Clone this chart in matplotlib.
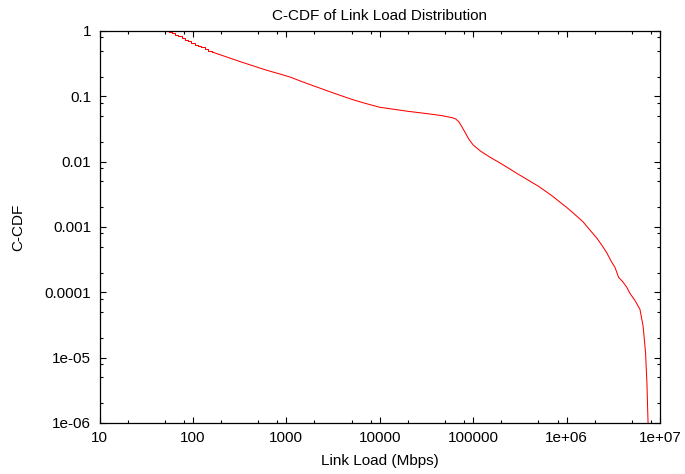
import numpy as np
import matplotlib
matplotlib.use("Agg")
import matplotlib.pyplot as plt
from matplotlib.ticker import LogLocator, NullFormatter

plt.rcParams['font.family'] = ['Liberation Sans', 'DejaVu Sans']

# stepped head of the C-CDF (small integer loads)
head_x = [52, 56, 60, 65, 70, 76, 82, 89, 96, 104, 113, 123, 134, 146, 159, 165]
head_y = [1.0, 0.97, 0.93, 0.88, 0.83, 0.78, 0.74, 0.7, 0.66, 0.62, 0.59, 0.56,
          0.53, 0.5, 0.48, 0.47]

# smooth tail
tail_x = [165, 230, 320, 450, 620, 850, 1100, 1500, 2000, 3000, 5000, 7000,
          10000, 20000, 30000, 45000, 60000, 65000, 70000, 75000, 82000, 90000,
          100000, 120000, 150000, 200000, 300000, 500000, 700000, 850000, 1e6,
          1.2e6, 1.5e6, 1.8e6, 2.1e6, 2.4e6, 2.7e6, 3.0e6, 3.3e6, 3.6e6, 4.0e6,
          4.4e6, 4.8e6, 5.4e6, 6.1e6, 6.6e6, 7.0e6, 7.25e6, 7.38e6, 7.45e6]
tail_y = [0.47, 0.40, 0.34, 0.29, 0.25, 0.22, 0.197, 0.166, 0.143, 0.116,
          0.09, 0.078, 0.068, 0.059, 0.055, 0.051, 0.047, 0.045, 0.041, 0.035,
          0.028, 0.022, 0.018, 0.0145, 0.0118, 0.0093, 0.0065, 0.0042, 0.003,
          0.0024, 0.002, 0.0016, 0.0012, 0.00088, 0.00068, 0.00052, 0.0004,
          0.0003, 0.00024, 0.00017, 0.000145, 0.00012, 9.5e-5, 7.5e-5, 5.5e-5,
          3e-5, 1.2e-5, 4e-6, 1.6e-6, 1e-6]

xticks = [10, 100, 1000, 10000, 100000, 1e6, 1e7]
xlabels = ["10", "100", "1000", "10000", "100000", "1e+06", "1e+07"]
yticks = [1, 0.1, 0.01, 0.001, 0.0001, 1e-5, 1e-6]
ylabels = ["1", "0.1", "0.01", "0.001", "0.0001", "1e-05", "1e-06"]

fig = plt.figure(figsize=(6.85, 4.74), dpi=100)
ax = fig.add_axes([0.1453, 0.1076, 0.8182, 0.827])

ax.plot(head_x, head_y, color='#ff0000', lw=0.75, drawstyle='steps-post')
ax.plot(tail_x, tail_y, color='#ff0000', lw=0.75)

ax.set_xscale('log')
ax.set_yscale('log')
ax.set_xlim(10, 1e7)
ax.set_ylim(1e-6, 1)

ax.set_xticks(xticks, xlabels)
ax.set_yticks(yticks, ylabels)
ax.xaxis.set_minor_locator(LogLocator(base=10, subs=(2, 5, 8)))
ax.yaxis.set_minor_locator(LogLocator(base=10, subs=(2, 5, 8)))
ax.xaxis.set_minor_formatter(NullFormatter())
ax.yaxis.set_minor_formatter(NullFormatter())

ax.tick_params(which='both', direction='in', top=True, right=True,
               labelsize=11, width=0.8)
ax.tick_params(which='major', length=4.5, pad=6)
ax.tick_params(which='minor', length=2.3)
for s in ax.spines.values():
    s.set_linewidth(0.9)

ax.set_title("C-CDF of Link Load Distribution", fontsize=11, pad=8)
ax.set_xlabel("Link Load (Mbps)", fontsize=11, labelpad=6)
ax.set_ylabel("C-CDF", fontsize=11, labelpad=14)

fig.savefig("out.png", dpi=100)
